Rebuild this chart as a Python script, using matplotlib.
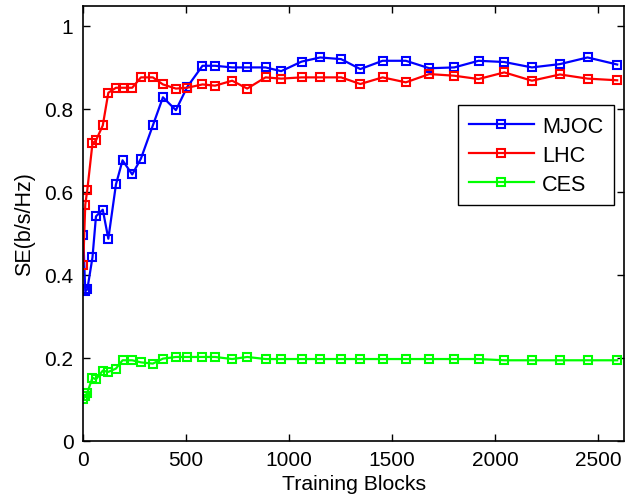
import matplotlib
matplotlib.use("Agg")
import matplotlib.pyplot as plt

# data
blocks = [0, 10, 20, 45, 62, 95, 122, 159, 191, 238, 280, 338, 387, 450, 505,
          579, 640, 723, 796, 885, 961, 1060, 1150, 1252, 1345, 1453, 1566,
          1680, 1801, 1919, 2044, 2178, 2314, 2448, 2592]
mjoc = [0.497, 0.360, 0.365, 0.442, 0.541, 0.557, 0.487, 0.618, 0.676, 0.642,
        0.680, 0.760, 0.828, 0.797, 0.853, 0.904, 0.904, 0.900, 0.900, 0.900,
        0.891, 0.914, 0.924, 0.920, 0.896, 0.916, 0.916, 0.898, 0.900, 0.916,
        0.913, 0.900, 0.908, 0.924, 0.907]
lhc = [0.423, 0.569, 0.605, 0.717, 0.724, 0.760, 0.839, 0.851, 0.851, 0.851,
       0.876, 0.876, 0.859, 0.849, 0.851, 0.859, 0.856, 0.868, 0.849, 0.876,
       0.873, 0.876, 0.876, 0.876, 0.860, 0.876, 0.864, 0.884, 0.880, 0.872,
       0.888, 0.868, 0.883, 0.873, 0.869]
ces = [0.100, 0.108, 0.116, 0.152, 0.148, 0.169, 0.166, 0.174, 0.194, 0.194,
       0.189, 0.186, 0.198, 0.202, 0.202, 0.202, 0.202, 0.197, 0.202, 0.197,
       0.197, 0.197, 0.197, 0.197, 0.197, 0.197, 0.197, 0.197, 0.197, 0.197,
       0.194, 0.194, 0.194, 0.194, 0.194]

series = [("MJOC", mjoc, "#0000ff"), ("LHC", lhc, "#ff0000"), ("CES", ces, "#00ff00")]

plt.rcParams['font.family'] = ['Liberation Sans', 'DejaVu Sans']
plt.rcParams['font.size'] = 15

fig = plt.figure(figsize=(6.4, 5.02), dpi=100)
ax = fig.add_axes([0.13, 0.12, 0.845, 0.866])

for name, vals, col in series:
    ax.plot(blocks, vals, color=col, lw=1.6, marker='s', ms=5.5,
            mfc='none', mec=col, mew=1.5, label=name)

ax.set_xlim(0, 2625)
ax.set_ylim(0, 1.048)
ax.set_xticks([0, 500, 1000, 1500, 2000, 2500])
ax.set_yticks([0, 0.2, 0.4, 0.6, 0.8, 1])
ax.set_yticklabels(['0', '0.2', '0.4', '0.6', '0.8', '1'])
ax.tick_params(direction='in', top=True, right=True, length=5, width=1,
               labelsize=15)
ax.tick_params(axis='y', pad=7)
ax.tick_params(axis='x', pad=7)
for s in ax.spines.values():
    s.set_linewidth(1.2)

ax.set_xlabel("Training Blocks", fontsize=15.3, labelpad=3)
ax.set_ylabel("SE(b/s/Hz)", fontsize=15.5, labelpad=7)

leg = ax.legend(loc='upper right', bbox_to_anchor=(0.982, 0.772), fancybox=False,
                framealpha=1, edgecolor='black', handlelength=3.0,
                handletextpad=0.4, borderpad=0.5, labelspacing=0.36,
                borderaxespad=0, fontsize=15.6)
leg.get_frame().set_linewidth(1.0)

fig.savefig("out.png", dpi=100)
